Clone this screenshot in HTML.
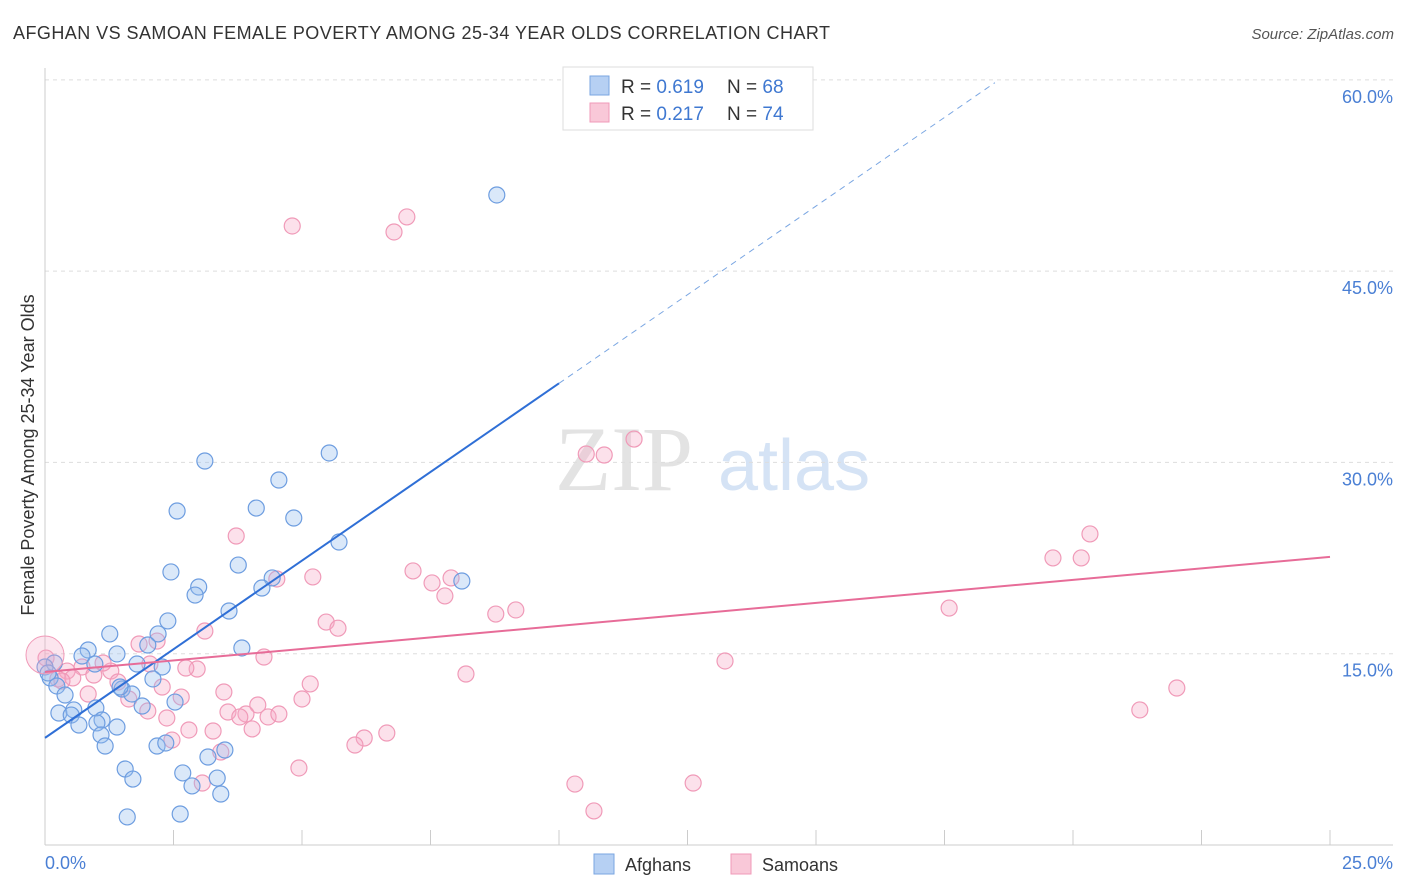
<!DOCTYPE html>
<html><head><meta charset="utf-8"><style>
body{margin:0;background:#fff;font-family:"Liberation Sans",sans-serif}
svg{display:block}
</style></head><body>
<svg id="chart" width="1406" height="892" viewBox="0 0 1406 892" xmlns="http://www.w3.org/2000/svg">
<text x="13" y="39" font-size="18" fill="#333" letter-spacing="0.45" font-family="Liberation Sans, sans-serif">AFGHAN VS SAMOAN FEMALE POVERTY AMONG 25-34 YEAR OLDS CORRELATION CHART</text>
<text x="1394" y="39" font-size="15" fill="#555" font-style="italic" text-anchor="end">Source: ZipAtlas.com</text>
<text x="555" y="490" font-size="92" fill="#e3e3e3" font-family="Liberation Serif, serif">ZIP</text>
<text x="718" y="490" font-size="72" fill="#d5e3f5">atlas</text>
<g id="grid"></g>
<g id="axes"></g>
<g id="marks"></g>
<g id="lines"></g>
<text transform="translate(34,455) rotate(-90)" font-size="18" fill="#333" text-anchor="middle">Female Poverty Among 25-34 Year Olds</text>
<g>
<rect x="563" y="67" width="250" height="63" fill="#fff" stroke="#ddd"/>
<rect x="590" y="76" width="19" height="19" fill="#b6d0f3" stroke="#7aa6e2"/>
<rect x="590" y="103" width="19" height="19" fill="#f9c8d8" stroke="#f09ab8"/>
<text x="621" y="93" font-size="19" fill="#333">R = <tspan fill="#3f78d1">0.619</tspan></text>
<text x="727" y="93" font-size="19" fill="#333">N = <tspan fill="#3f78d1">68</tspan></text>
<text x="621" y="120" font-size="19" fill="#333">R = <tspan fill="#3f78d1">0.217</tspan></text>
<text x="727" y="120" font-size="19" fill="#333">N = <tspan fill="#3f78d1">74</tspan></text>
</g>
<g>
<rect x="594" y="854" width="20" height="20" fill="#b6d0f3" stroke="#7aa6e2"/>
<text x="625" y="871" font-size="18" fill="#333">Afghans</text>
<rect x="731" y="854" width="20" height="20" fill="#f9c8d8" stroke="#f09ab8"/>
<text x="762" y="871" font-size="18" fill="#333">Samoans</text>
</g>
</svg>
<script>
const xTicks=[0,2.5,5,7.5,10,12.5,15,17.5,20,22.5,25];
const yTicks=[15,30,45,60];
const yTickLabels=["15.0%","30.0%","45.0%","60.0%"];
const afghanX=[8.79,5.53,3.11,4.55,2.57,4.11,4.84,5.72,3.76,2.45,4.42,2.99,4.22,2.92,8.11,3.58,2.39,1.26,2.2,3.83,2.0,0.84,0.72,1.4,0.18,0.97,1.79,2.28,0,0.1,2.1,0.23,1.5,1.69,0.39,1.89,2.53,0.99,0.27,0.56,0.51,1.11,1.01,0.66,1.4,1.09,1.17,2.18,2.35,3.5,3.17,1.56,1.71,2.68,3.35,2.86,3.42,1.6,2.63,0.06,1.46];
const afghanY=[50.97,30.74,30.11,28.62,26.19,26.42,25.64,23.76,21.95,21.41,20.94,20.23,20.15,19.6,20.7,18.35,17.57,16.55,16.55,15.45,15.68,15.29,14.82,14.98,14.27,14.19,14.19,13.96,13.96,13.1,13.02,12.47,12.23,11.84,11.76,10.9,11.21,10.74,10.35,10.59,10.19,9.8,9.57,9.41,9.25,8.63,7.76,7.76,8.0,7.45,6.9,5.96,5.17,5.65,5.25,4.63,4.0,2.2,2.43,13.49,12.39];
const samoanX=[4.81,7.04,6.79,11.46,10.53,10.88,20.33,19.61,20.16,3.72,7.16,5.21,7.53,7.9,7.78,4.51,9.16,8.77,17.59,5.47,5.7,3.11,1.83,2.18,4.26,13.23,0.02,2.04,2.96,2.74,1.28,0.43,0.72,0.95,1.13,0.25,8.19,5.16,22.02,3.48,2.65,1.63,2.28,0.84,5.0,1.42,4.14,2.0,3.56,3.91,3.79,2.37,3.27,4.34,4.55,4.03,2.8,21.3,6.65,6.21,6.03,2.47,3.42,4.94,10.31,12.61,10.68,3.06,0.54,0.33];
const samoanY=[48.54,49.25,48.07,31.83,30.66,30.58,24.39,22.51,22.51,24.23,21.49,21.02,20.55,20.94,19.53,20.86,18.43,18.11,18.58,17.48,17.0,16.78,15.76,15.99,14.74,14.43,14.66,14.19,13.8,13.88,13.64,13.64,13.96,13.33,14.27,13.02,13.41,12.63,12.31,12.0,11.6,11.45,12.39,11.84,11.45,12.78,10.98,10.51,10.43,10.27,10.04,9.96,8.94,10.04,10.27,9.1,9.02,10.59,8.78,8.39,7.84,8.23,7.29,6.04,4.78,4.86,2.67,4.86,13.1,12.86];
const afghanFit=[8.4,2.78];
const samoanFit=[13.57,0.361];
const X=v=>45+v*51.4, Y=v=>845-v*12.753;
const NS="http://www.w3.org/2000/svg";
function mk(tag,attrs,parent){const e=document.createElementNS(NS,tag);for(const k in attrs)e.setAttribute(k,attrs[k]);document.getElementById(parent).appendChild(e);return e;}
yTicks.forEach((t,i)=>{
 const g=mk('line',{x1:45,x2:1393,y1:Y(t),y2:Y(t),stroke:'#ddd','stroke-dasharray':'4,4'},'grid');
 
 
 const l=mk('text',{x:1393,y:Y(t)+23,'font-size':18,fill:'#4a7fd4','text-anchor':'end'},'axes');
 l.textContent=yTickLabels[i];
 
 
});
let a=mk('line',{x1:45,x2:45,y1:68,y2:845,stroke:'#ccc'},'axes');


a=mk('line',{x1:45,x2:1393,y1:845,y2:845,stroke:'#ccc'},'axes');


xTicks.forEach(t=>{const e=mk('line',{x1:X(t),x2:X(t),y1:830,y2:845,stroke:'#ccc'},'axes');
 
 });
let l0=mk('text',{x:45,y:869,'font-size':18,fill:'#4a7fd4'},'axes');l0.textContent='0.0%';


let l1=mk('text',{x:1393,y:869,'font-size':18,fill:'#4a7fd4','text-anchor':'end'},'axes');l1.textContent='25.0%';


samoanX.forEach((x,i)=>{const c=mk('circle',{cx:X(x),cy:Y(samoanY[i]),r:8,fill:'rgba(246,170,198,0.35)',stroke:'#f09ab8','stroke-width':1.2},'marks');
 
 });
afghanX.forEach((x,i)=>{const c=mk('circle',{cx:X(x),cy:Y(afghanY[i]),r:8,fill:'rgba(150,188,238,0.35)',stroke:'#6d9de0','stroke-width':1.2},'marks');
 
 });
let big=mk('circle',{cx:X(0),cy:Y(14.9),r:19,fill:'rgba(246,170,198,0.3)',stroke:'#f09ab8'},'marks');


const fy=(f,x)=>f[0]+f[1]*x;
let ln=mk('line',{x1:X(0),y1:Y(fy(afghanFit,0)),x2:X(10),y2:Y(fy(afghanFit,10)),stroke:'#2f6fd6','stroke-width':2},'lines');


ln=mk('line',{x1:X(10),y1:Y(fy(afghanFit,10)),x2:X(18.48),y2:Y(fy(afghanFit,18.48)),stroke:'#7aa6e2','stroke-width':1,'stroke-dasharray':'6,5'},'lines');


ln=mk('line',{x1:X(0),y1:Y(fy(samoanFit,0)),x2:X(25),y2:Y(fy(samoanFit,25)),stroke:'#e76c98','stroke-width':2},'lines');


</script>
</body></html>
